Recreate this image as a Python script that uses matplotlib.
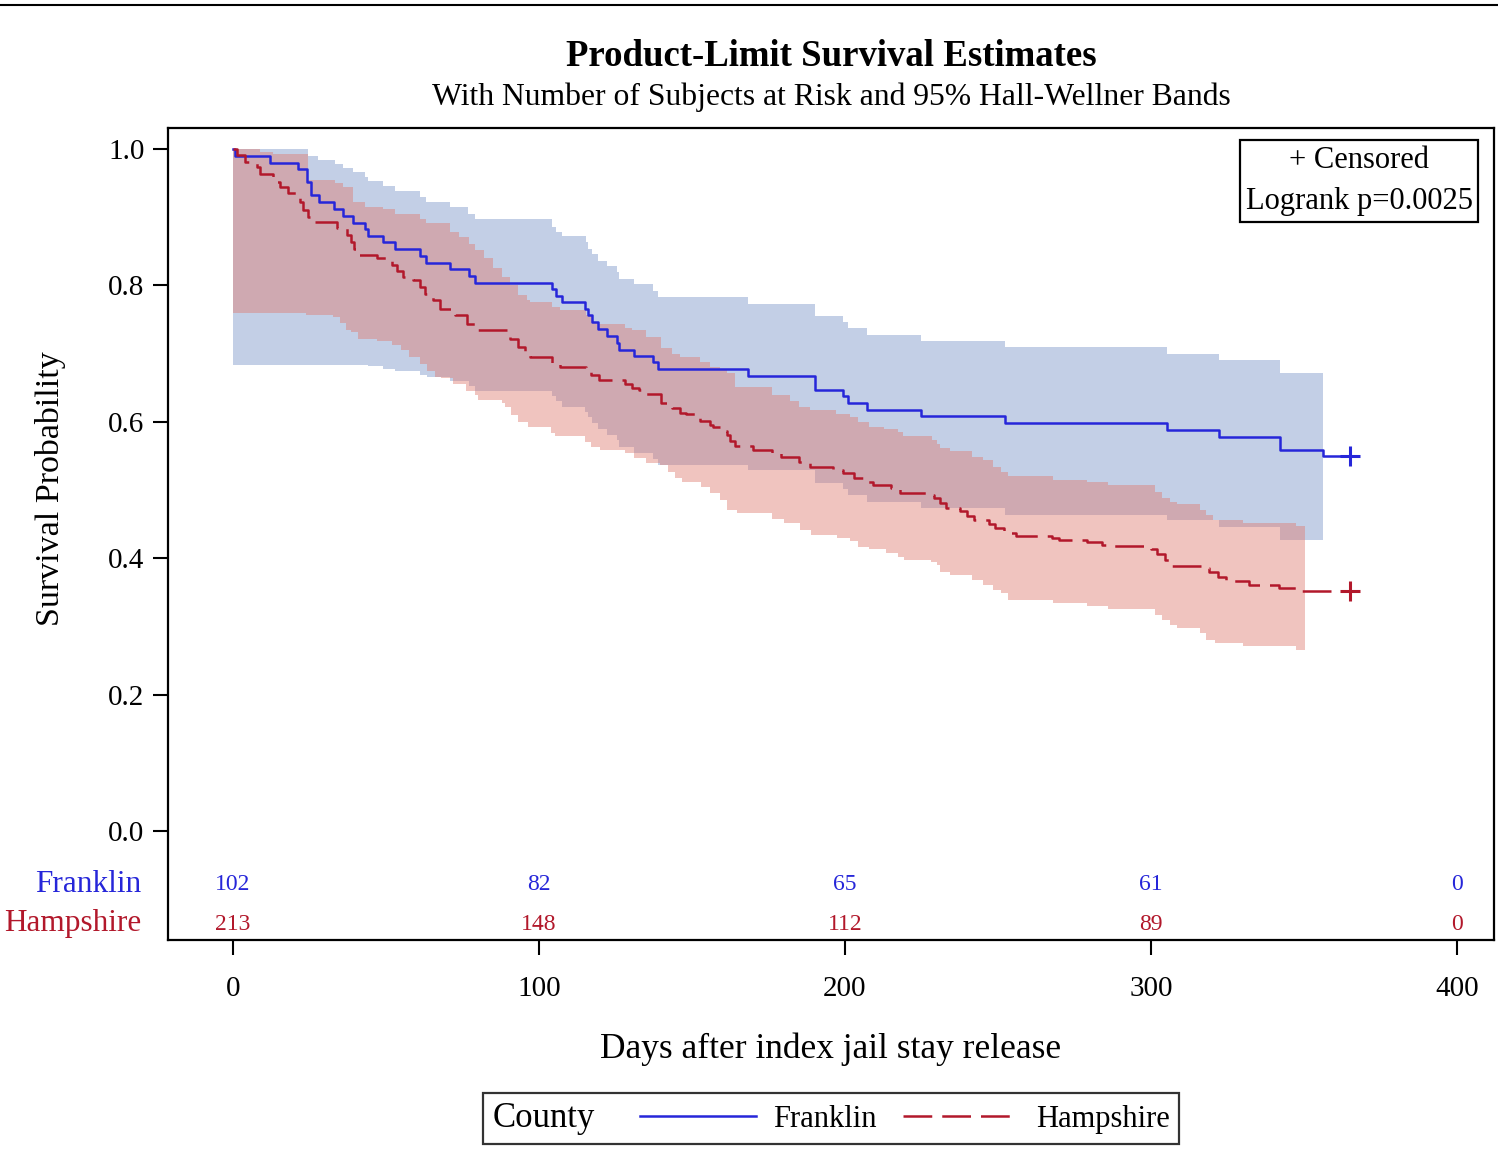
import numpy as np
import matplotlib
matplotlib.use('Agg')
import matplotlib.pyplot as plt
from matplotlib.lines import Line2D
from matplotlib.transforms import blended_transform_factory
from matplotlib.offsetbox import HPacker, DrawingArea

plt.rcParams['font.family'] = ['Liberation Serif', 'DejaVu Serif']

# ---------------- data ----------------
groups = ['Franklin', 'Hampshire']
censor_time = 365.0

# Franklin Kaplan-Meier estimate (time of step, survival after step)
frank_t = [0, 0.5, 12.1, 21.1, 24.3, 25.5, 28.1, 33.1, 36.1, 39.1, 43.1, 44.0, 49.1, 52.9,
           61.1, 63.0, 70.9, 77.2, 79.1, 104.1, 105.5, 107.5, 115.2, 116.1, 117.2, 119.2,
           122.1, 125.4, 126.1, 131.1, 137.1, 139.0, 168.2, 190.2, 199.2, 201.1, 207.1,
           225.0, 252.3, 305.1, 322.2, 342.2, 356.3]
frank_s = [1.0, 0.990, 0.980, 0.971, 0.951, 0.932, 0.922, 0.912, 0.902, 0.892, 0.883, 0.873,
           0.863, 0.853, 0.843, 0.833, 0.824, 0.814, 0.804, 0.794, 0.784, 0.775, 0.766, 0.757,
           0.746, 0.736, 0.726, 0.716, 0.706, 0.696, 0.687, 0.677, 0.667, 0.647, 0.638, 0.628,
           0.618, 0.608, 0.598, 0.588, 0.578, 0.559, 0.550]

# Franklin Hall-Wellner band
frank_band_end = 356.3
frank_hi_t = [0, 24.5, 27.9, 33.3, 36.0, 39.1, 43.1, 44.2, 49.1, 52.9, 61.1, 63.0, 70.9, 76.9,
              79.1, 104.1, 105.5, 107.5, 115.4, 116.1, 117.2, 119.2, 122.1, 125.4, 126.1,
              131.1, 137.1, 139.0, 168.2, 190.2, 199.2, 201.1, 207.1, 225.0, 252.3, 305.1,
              322.2, 342.2]
frank_hi = [1.0, 0.990, 0.984, 0.978, 0.972, 0.966, 0.959, 0.953, 0.946, 0.938, 0.930, 0.922,
            0.915, 0.905, 0.897, 0.885, 0.878, 0.872, 0.863, 0.854, 0.846, 0.836, 0.828, 0.819,
            0.810, 0.802, 0.792, 0.783, 0.773, 0.755, 0.746, 0.737, 0.727, 0.718, 0.709, 0.699,
            0.690, 0.671]
frank_lo_t = [0, 44.2, 49.1, 52.9, 61.1, 63.3, 70.9, 77.2, 79.1, 104.1, 105.5, 107.5, 115.2,
              116.1, 117.2, 119.2, 122.1, 125.4, 126.1, 131.1, 137.1, 139.0, 168.2, 190.2,
              199.2, 201.1, 207.1, 225.0, 252.3, 305.1, 322.2, 342.2]
frank_lo = [0.684, 0.682, 0.678, 0.675, 0.669, 0.665, 0.660, 0.652, 0.645, 0.638, 0.630, 0.622,
            0.615, 0.607, 0.598, 0.590, 0.581, 0.573, 0.563, 0.554, 0.546, 0.537, 0.529, 0.510,
            0.501, 0.492, 0.483, 0.474, 0.464, 0.456, 0.446, 0.427]

# Hampshire Kaplan-Meier estimate
hamp_t = [0, 1.4, 4.0, 7.7, 8.8, 13.2, 15.4, 18.1, 21.9, 23.0, 24.6, 26.8, 33.9, 37.1, 38.5,
          39.5, 41.0, 47.1, 51.9, 53.5, 55.7, 58.9, 61.0, 62.7, 65.5, 67.6, 72.5, 76.4, 79.8,
          90.5, 93.2, 95.4, 97.0, 104.1, 107.0, 115.4, 117.0, 119.5, 128.1, 130.5, 132.7,
          135.0, 140.0, 143.5, 146.0, 148.0, 152.5, 155.8, 157.0, 159.0, 161.5, 162.5, 164.0,
          170.0, 176.0, 179.0, 185.0, 188.5, 196.0, 199.5, 203.0, 206.0, 209.0, 215.0, 218.0,
          227.5, 229.0, 231.0, 233.0, 237.5, 240.0, 242.0, 247.0, 249.0, 252.0, 254.0, 256.0,
          267.5, 270.0, 279.0, 284.0, 288.0, 300.0, 302.0, 304.5, 307.0, 316.5, 319.0, 322.0,
          324.5, 332.0, 342.0, 349.0]
hamp_s = [1.0, 0.991, 0.981, 0.974, 0.964, 0.952, 0.945, 0.935, 0.923, 0.910, 0.901, 0.893,
          0.884, 0.874, 0.864, 0.854, 0.845, 0.840, 0.830, 0.821, 0.813, 0.808, 0.798, 0.788,
          0.779, 0.766, 0.757, 0.744, 0.735, 0.722, 0.710, 0.700, 0.695, 0.686, 0.681, 0.676,
          0.669, 0.662, 0.655, 0.650, 0.646, 0.641, 0.627, 0.620, 0.613, 0.611, 0.601, 0.595,
          0.593, 0.587, 0.580, 0.572, 0.564, 0.559, 0.554, 0.549, 0.541, 0.534, 0.530, 0.525,
          0.517, 0.512, 0.507, 0.503, 0.496, 0.493, 0.488, 0.481, 0.474, 0.469, 0.462, 0.456,
          0.450, 0.445, 0.440, 0.437, 0.432, 0.430, 0.427, 0.424, 0.420, 0.418, 0.413, 0.406,
          0.397, 0.389, 0.385, 0.380, 0.373, 0.366, 0.361, 0.356, 0.352]

# Hampshire Hall-Wellner band
hamp_band_end = 350.3
hamp_hi_t = [0, 8.8, 13.2, 24.6, 33.3, 36.0, 39.1, 43.1, 49.1, 52.9, 61.1, 63.0, 70.9, 74.0,
             77.2, 79.1, 82.0, 85.0, 88.0, 90.5, 93.2, 96.0, 97.0, 104.1, 107.0, 115.4, 117.2,
             119.5, 128.1, 130.5, 135.0, 140.0, 143.5, 146.0, 152.5, 155.8, 159.0, 161.5,
             164.0, 176.0, 182.0, 185.0, 188.5, 197.0, 201.6, 204.3, 208.0, 212.9, 217.2,
             219.1, 228.4, 230.0, 231.0, 234.3, 241.4, 245.0, 248.5, 251.0, 253.4, 268.0,
             279.0, 286.0, 301.3, 303.5, 306.3, 308.4, 316.0, 318.0, 320.4, 330.2, 347.3]
hamp_hi = [1.0, 0.996, 0.993, 0.954, 0.950, 0.945, 0.923, 0.915, 0.912, 0.905, 0.898, 0.891,
           0.879, 0.871, 0.860, 0.852, 0.840, 0.825, 0.813, 0.800, 0.786, 0.779, 0.776, 0.769,
           0.764, 0.757, 0.747, 0.744, 0.737, 0.735, 0.725, 0.708, 0.700, 0.695, 0.688, 0.681,
           0.676, 0.671, 0.651, 0.639, 0.630, 0.622, 0.617, 0.612, 0.607, 0.599, 0.593, 0.589,
           0.585, 0.579, 0.573, 0.568, 0.561, 0.557, 0.548, 0.544, 0.534, 0.527, 0.521, 0.515,
           0.512, 0.507, 0.497, 0.488, 0.483, 0.479, 0.470, 0.463, 0.456, 0.452, 0.447]
hamp_lo_t = [0, 24.0, 32.8, 35.0, 37.0, 38.5, 41.0, 47.1, 52.0, 55.0, 57.5, 61.0, 63.5, 66.0,
             68.0, 72.0, 76.0, 79.0, 80.0, 88.0, 89.0, 91.0, 93.2, 96.4, 104.0, 105.2, 115.0,
             117.0, 120.0, 128.0, 131.0, 135.0, 139.7, 142.0, 144.5, 146.8, 152.8, 156.0,
             159.0, 161.5, 164.8, 176.2, 180.0, 185.4, 189.0, 197.4, 201.6, 204.3, 208.0,
             213.5, 217.2, 219.4, 228.1, 230.0, 231.0, 234.3, 241.4, 245.0, 248.5, 251.0,
             253.4, 268.0, 279.0, 286.0, 301.3, 303.5, 306.3, 308.4, 316.0, 318.0, 320.9,
             330.2, 347.3]
hamp_lo = [0.760, 0.757, 0.754, 0.745, 0.735, 0.732, 0.722, 0.718, 0.713, 0.705, 0.695, 0.685,
           0.675, 0.666, 0.664, 0.655, 0.645, 0.639, 0.632, 0.628, 0.622, 0.610, 0.600, 0.593,
           0.583, 0.579, 0.571, 0.563, 0.558, 0.554, 0.547, 0.539, 0.537, 0.527, 0.517, 0.512,
           0.505, 0.495, 0.485, 0.471, 0.467, 0.458, 0.451, 0.441, 0.434, 0.429, 0.425, 0.417,
           0.413, 0.407, 0.402, 0.398, 0.394, 0.390, 0.380, 0.375, 0.368, 0.361, 0.353, 0.349,
           0.339, 0.335, 0.330, 0.325, 0.317, 0.310, 0.302, 0.298, 0.290, 0.280, 0.275, 0.271,
           0.266]

# Number at risk
risk_times = [0, 100, 200, 300, 400]
frank_risk = [102, 82, 65, 61, 0]
hamp_risk = [213, 148, 112, 89, 0]

x_ticks = [0, 100, 200, 300, 400]
y_ticks = [0.0, 0.2, 0.4, 0.6, 0.8, 1.0]
logrank_text = 'Logrank p=0.0025'

# ---------------- style ----------------
BLUE = '#2626D9'
RED = '#B2182B'
BAND_BLUE = '#C3CFE6'
BAND_RED = (222 / 255, 124 / 255, 113 / 255)
FS = 21

W, H = 1498, 1164
fig = plt.figure(figsize=(W / 100, H / 100), dpi=100)
ax = fig.add_axes([168 / W, 1 - 940 / H, (1494 - 168) / W, (940 - 128) / H])


def step_eval(t, v, grid):
    t = np.asarray(t, float)
    v = np.asarray(v, float)
    idx = np.searchsorted(t, grid, side='right') - 1
    return v[np.clip(idx, 0, None)]


def draw_band(hi_t, hi, lo_t, lo, end, color, alpha):
    grid = np.union1d(np.union1d(hi_t, lo_t), [end])
    grid = grid[grid <= end]
    ax.fill_between(grid, step_eval(lo_t, lo, grid), step_eval(hi_t, hi, grid),
                    step='post', color=color, alpha=alpha, lw=0, zorder=1)


draw_band(frank_hi_t, frank_hi, frank_lo_t, frank_lo, frank_band_end, BAND_BLUE, 1.0)
draw_band(hamp_hi_t, hamp_hi, hamp_lo_t, hamp_lo, hamp_band_end, BAND_RED, 0.45)

ft = np.r_[frank_t, censor_time]
fs = np.r_[frank_s, frank_s[-1]]
ht = np.r_[hamp_t, censor_time]
hs = np.r_[hamp_s, hamp_s[-1]]
ax.step(ft, fs, where='post', color=BLUE, lw=1.8, zorder=3)
ax.step(ht, hs, where='post', color=RED, lw=1.8, linestyle=(0, (11.5, 4)), zorder=3)
ax.plot([censor_time], [frank_s[-1]], marker='+', ms=15, mew=2.2, color=BLUE, zorder=4)
ax.plot([censor_time], [hamp_s[-1]], marker='+', ms=15, mew=2.2, color=RED, zorder=4)

ax.set_xlim(-21.24, 412.1)
ax.set_ylim(-0.1598, 1.0308)

ax.set_xticks(x_ticks)
ax.set_xticklabels([str(v) for v in x_ticks], fontsize=FS)
ax.set_yticks(y_ticks)
ax.set_yticklabels([f'{v:.1f}' for v in y_ticks], fontsize=FS)
ax.tick_params(axis='x', direction='out', length=11, width=1.5, pad=15)
ax.tick_params(axis='y', direction='out', length=11, width=1.5, pad=6)
for sp in ax.spines.values():
    sp.set_linewidth(1.6)

# at-risk table inside axes
tr = blended_transform_factory(ax.transData, ax.transAxes)
y_f = (940 - 885) / 812
y_h = (940 - 924) / 812
for t, nf, nh in zip(risk_times, frank_risk, hamp_risk):
    ax.text(t, y_f, str(nf), transform=tr, ha='center', va='center', color=BLUE, fontsize=17)
    ax.text(t, y_h, str(nh), transform=tr, ha='center', va='center', color=RED, fontsize=17)
ax.text(-0.0204, y_f, groups[0], transform=ax.transAxes, ha='right', va='center',
        color=BLUE, fontsize=22.5)
ax.text(-0.0204, y_h, groups[1], transform=ax.transAxes, ha='right', va='center',
        color=RED, fontsize=22.5)

# inset text box
ax.text((1359 - 168) / 1326, (940 - 181) / 812, '+ Censored\n' + logrank_text,
        transform=ax.transAxes, ha='center', va='center', multialignment='center',
        fontsize=22, linespacing=1.55,
        bbox=dict(boxstyle='square,pad=0.18', fc='white', ec='black', lw=1.6))

# titles and axis labels
cx = (168 + 1494) / 2 / W
fig.text(cx, 1 - 56 / H, 'Product-Limit Survival Estimates', ha='center', va='center',
         fontsize=26.5, fontweight='bold')
fig.text(cx, 1 - 97 / H, 'With Number of Subjects at Risk and 95% Hall-Wellner Bands',
         ha='center', va='center', fontsize=22.8)
fig.text(50 / W, 1 - 489 / H, 'Survival Probability', rotation=90, ha='center',
         va='center', fontsize=24.5)
fig.text(cx, 1 - 1049 / H, 'Days after index jail stay release', ha='center', va='center',
         fontsize=25.5)

# top border line
fig.add_artist(Line2D([0, 1], [1 - 5 / H, 1 - 5 / H], transform=fig.transFigure,
                      color='black', lw=1.5))

# legend with inline title
h1 = Line2D([], [], color=BLUE, lw=1.8)
h2 = Line2D([], [], color=RED, lw=1.8, linestyle=(0, (11.5, 4)))
leg = fig.legend([h1, h2], groups, ncol=2, title='County', loc='center',
                 bbox_to_anchor=(cx, 1 - 1118.5 / H), fontsize=22, title_fontsize=25,
                 handlelength=3.8, handletextpad=0.55, columnspacing=0.6,
                 frameon=True, fancybox=False, edgecolor='black', borderpad=0.3)
leg.get_frame().set_linewidth(1.6)
try:
    vp = leg.get_children()[0]
    title_box, hp = vp.get_children()[0], vp.get_children()[1]
    title_wrap = HPacker(children=[title_box, DrawingArea(13, 0, 0, 0)], pad=0, sep=0,
                         align='baseline')
    vp._children = [hp]
    hp._children = [title_wrap] + hp.get_children()
    hp.sep = 19.5
except Exception:
    pass

fig.savefig('out.png', dpi=100)
